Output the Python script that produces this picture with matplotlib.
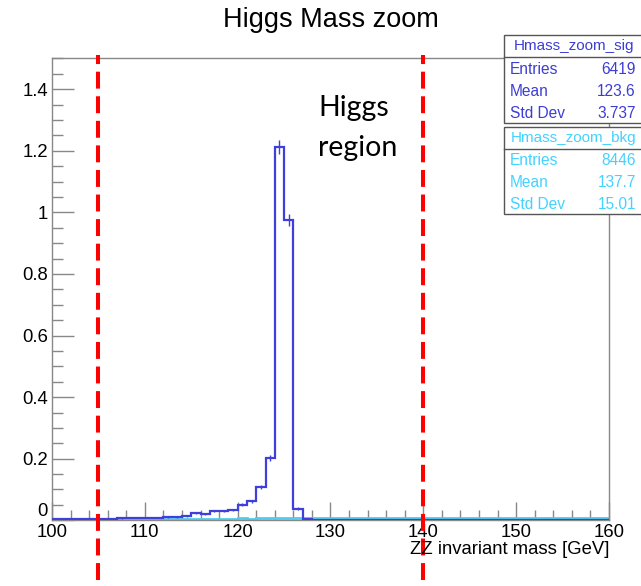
import numpy as np
import matplotlib
matplotlib.use("Agg")
import matplotlib.pyplot as plt

# ---- data ----
bin_edges = list(range(100, 161))  # 1 GeV bins
sig_vals = [0.003, 0.003, 0.005, 0.005, 0.004, 0.004, 0.004, 0.007, 0.008, 0.008,
            0.008, 0.008, 0.010, 0.010, 0.013, 0.024, 0.019, 0.030, 0.031, 0.033,
            0.050, 0.062, 0.107, 0.202, 1.213, 0.975, 0.038, 0.003, 0.002, 0.0005,
            0.0, 0.0005, 0.0, 0.0, 0.0, 0.0, 0.0, 0.0, 0.0, 0.0,
            0.0, 0.0, 0.0, 0.0, 0.0, 0.0, 0.0, 0.0, 0.0, 0.0,
            0.0, 0.0, 0.0, 0.0, 0.0, 0.0, 0.0, 0.0, 0.0, 0.0]
bkg_vals = [0.003, 0.003, 0.004, 0.004, 0.003, 0.004, 0.003, 0.004, 0.003, 0.004,
            0.004, 0.003, 0.004, 0.004, 0.003, 0.004, 0.005, 0.004, 0.005, 0.005,
            0.006, 0.005, 0.006, 0.006, 0.007, 0.006, 0.007, 0.006, 0.007, 0.006,
            0.007, 0.006, 0.007, 0.006, 0.007, 0.007, 0.006, 0.007, 0.006, 0.007,
            0.007, 0.008, 0.007, 0.008, 0.007, 0.007, 0.008, 0.007, 0.008, 0.007,
            0.007, 0.008, 0.008, 0.009, 0.008, 0.009, 0.008, 0.008, 0.009, 0.008]
sig_weight = 0.000436   # per-entry weight (normalisation) for error bars
bkg_weight = 0.00004
cut_lines = [105, 140]
sig_stats = [("Entries", "6419"), ("Mean", "123.6"), ("Std Dev", "3.737")]
bkg_stats = [("Entries", "8446"), ("Mean", "137.7"), ("Std Dev", "15.01")]

W, H = 641, 586
fig = plt.figure(figsize=(W / 100, H / 100), dpi=100)
ax = fig.add_axes([52 / W, (H - 520.3) / H, (609 - 52) / W, (520.3 - 58.3) / H])

ROOT = ["Liberation Sans", "DejaVu Sans"]
sig_col = "#3f3fdc"
bkg_col = "#4fcdf0"
text_sig = "#3d3dd6"
text_bkg = "#44d2ff"

edges = np.array(bin_edges, dtype=float)
centers = 0.5 * (edges[:-1] + edges[1:])
sv = np.array(sig_vals)
bv = np.array(bkg_vals)

ax.stairs(bv, edges, color=bkg_col, lw=2, zorder=2)
ax.errorbar(centers, bv, yerr=np.sqrt(bv * bkg_weight), fmt="none", ecolor=bkg_col, elinewidth=1, zorder=2)
ax.stairs(sv, edges, color=sig_col, lw=1.6, zorder=3)
ax.errorbar(centers, sv, yerr=np.sqrt(sv * sig_weight), fmt="none", ecolor=sig_col, elinewidth=1, zorder=3)

for xc in cut_lines:
    ax.axvline(xc, ymin=-0.129, ymax=1.007, color="red", lw=2.9, ls=(0, (4.2, 1.9)), clip_on=False, zorder=5)

ax.set_xlim(100, 160)
ax.set_ylim(0, 1.5)
ax.set_xticks([100, 110, 120, 130, 140, 150, 160])
ax.set_xticks(np.arange(100, 161, 2), minor=True)
ax.set_yticks([0, 0.2, 0.4, 0.6, 0.8, 1.0, 1.2, 1.4])
ax.set_yticklabels(["0", "0.2", "0.4", "0.6", "0.8", "1", "1.2", "1.4"])
ax.set_yticks(np.arange(0, 1.5001, 0.05), minor=True)
ax.tick_params(axis="both", which="both", direction="in", colors="#888888", labelcolor="black", top=False, right=False)
ax.tick_params(axis="y", which="major", length=16, width=1)
ax.tick_params(axis="y", which="minor", length=8, width=1)
ax.tick_params(axis="x", which="major", length=13, width=1)
ax.tick_params(axis="x", which="minor", length=7, width=1)
ax.tick_params(axis="x", pad=3)
ax.tick_params(axis="y", pad=3)
for lab in ax.get_xticklabels() + ax.get_yticklabels():
    lab.set_family(ROOT)
    lab.set_fontsize(13.3)
# ROOT lifts the "0" label above the axis corner
ax.yaxis.get_major_ticks()[0].label1.set_verticalalignment("bottom")

for s in ax.spines.values():
    s.set_color("#888888")
    s.set_linewidth(1)

fig.text(609 / W, 1 - 550 / H, "ZZ invariant mass [GeV]", ha="right", va="center",
         family=ROOT, fontsize=13.3)
fig.text(331 / W, 1 - 20 / H, "Higgs Mass zoom", ha="center", va="center",
         family=ROOT, fontsize=19.5)
LATO = ["Lato", "DejaVu Sans"]
fig.text(318 / W, 1 - 116 / H, "Higgs", ha="left", va="baseline", family=LATO, fontsize=20.5)
fig.text(318 / W, 1 - 156 / H, "region", ha="left", va="baseline", family=LATO, fontsize=20.5)

def stats_box(y_top, y_sep, y_bot, title, rows, col):
    x0, x1 = 504, 646
    r = plt.Rectangle((x0 / W, 1 - y_bot / H), (x1 - x0) / W, (y_bot - y_top) / H,
                      transform=fig.transFigure, facecolor="white", edgecolor="#555555", lw=1, zorder=10)
    fig.add_artist(r)
    fig.add_artist(plt.Line2D([x0 / W, x1 / W], [1 - y_sep / H] * 2, transform=fig.transFigure,
                              color="#555555", lw=1, zorder=11))
    fig.text(574 / W, 1 - (y_top + y_sep) / 2 / H, title, ha="center", va="center",
             color=col, family=ROOT, fontsize=11, zorder=12)
    step = (y_bot - y_sep) / 3
    for i, (k, v) in enumerate(rows):
        yc = y_sep + step * (i + 0.5) + 1
        fig.text(510 / W, 1 - yc / H, k, ha="left", va="center", color=col, family=ROOT, fontsize=11.2, zorder=12)
        fig.text(636 / W, 1 - yc / H, v, ha="right", va="center", color=col, family=ROOT, fontsize=11.2, zorder=12)

stats_box(35, 57, 123, "Hmass_zoom_sig", sig_stats, text_sig)
stats_box(127, 149, 214, "Hmass_zoom_bkg", bkg_stats, text_bkg)

fig.savefig("out.png", dpi=100)
